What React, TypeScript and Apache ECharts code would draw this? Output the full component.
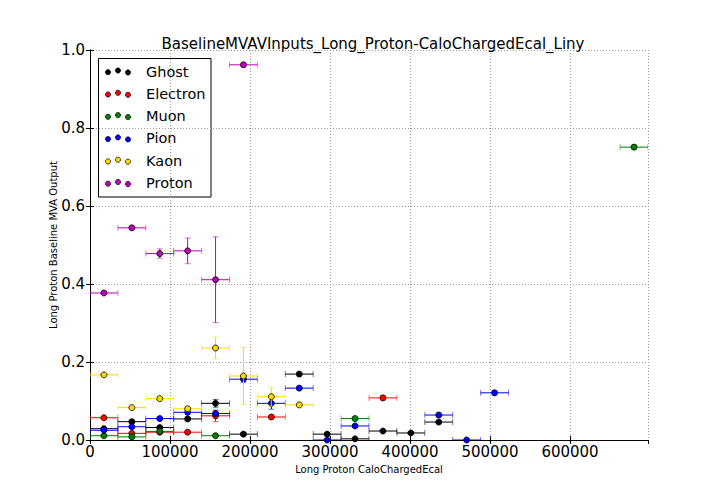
import React, { useEffect, useRef } from 'react';
import * as echarts from 'echarts';

// bin geometry of the x axis (CaloChargedEcal)
const BIN_WIDTH = 34875;
const X_MAX = 697500;
const binCenters = [
  17438, 52313, 87188, 122063, 156938, 191813, 226688, 261563, 296438, 331313,
  366188, 401063, 435938, 470813, 505688, 540563, 575438, 610313, 645188, 680063,
];

const yTicks = [0, 0.2, 0.4, 0.6, 0.8, 1.0];

const speciesNames = ['Ghost', 'Electron', 'Muon', 'Pion', 'Kaon', 'Proton'];
const speciesColors = ['#000000', '#ff0000', '#008000', '#0000ff', '#ffd700', '#bf00bf'];

const ghostBins = [0, 1, 2, 3, 4, 5, 7, 8, 9, 10, 11, 12];
const ghostValues = [0.029, 0.047, 0.032, 0.054, 0.094, 0.015, 0.169, 0.015, 0.003, 0.023, 0.018, 0.046];
const ghostErrors = [0.003, 0.004, 0.004, 0.005, 0.01, 0.004, 0.005, 0.004, 0.002, 0.003, 0.003, 0.004];

const electronBins = [0, 1, 2, 3, 4, 6, 10];
const electronValues = [0.057, 0.017, 0.02, 0.02, 0.062, 0.059, 0.108];
const electronErrors = [0.004, 0.003, 0.003, 0.004, 0.015, 0.005, 0.006];

const muonBins = [0, 1, 2, 4, 9, 19];
const muonValues = [0.011, 0.008, 0.022, 0.011, 0.055, 0.751];
const muonErrors = [0.002, 0.002, 0.003, 0.003, 0.005, 0.006];

const pionBins = [0, 1, 2, 3, 4, 5, 6, 7, 8, 9, 12, 13, 14];
const pionValues = [0.025, 0.034, 0.055, 0.071, 0.068, 0.156, 0.094, 0.133, 0.0, 0.036, 0.064, 0.0, 0.121];
const pionErrors = [0.003, 0.004, 0.004, 0.005, 0.006, 0.008, 0.015, 0.005, 0.002, 0.004, 0.005, 0.002, 0.005];

const kaonBins = [0, 1, 2, 3, 4, 5, 6, 7];
const kaonValues = [0.167, 0.083, 0.106, 0.08, 0.236, 0.164, 0.111, 0.09];
const kaonErrors = [0.004, 0.004, 0.005, 0.006, 0.028, 0.073, 0.024, 0.004];

const protonBins = [0, 1, 2, 3, 4, 5];
const protonValues = [0.377, 0.544, 0.478, 0.485, 0.411, 0.962];
const protonErrors = [0.004, 0.005, 0.012, 0.033, 0.11, 0.005];

const speciesBins = [ghostBins, electronBins, muonBins, pionBins, kaonBins, protonBins];
const speciesValues = [ghostValues, electronValues, muonValues, pionValues, kaonValues, protonValues];
const speciesErrors = [ghostErrors, electronErrors, muonErrors, pionErrors, kaonErrors, protonErrors];

const FONT = 'DejaVu Sans';

const errorBarRenderer = (color: string) => (params: any, api: any) => {
  const x = api.value(0);
  const y = api.value(1);
  const e = api.value(2);
  const left = api.coord([x - BIN_WIDTH / 2, y]);
  const right = api.coord([x + BIN_WIDTH / 2, y]);
  const top = api.coord([x, y + e]);
  const bottom = api.coord([x, y - e]);
  const cap = 3;
  const seg = (x1: number, y1: number, x2: number, y2: number, opacity = 1) => ({
    type: 'line',
    shape: { x1, y1, x2, y2 },
    style: { stroke: color, lineWidth: 1, opacity },
  });
  return {
    type: 'group',
    children: [
      seg(left[0], left[1], right[0], right[1]),
      seg(top[0], top[1], bottom[0], bottom[1]),
      seg(left[0], left[1] - cap, left[0], left[1] + cap, 0.55),
      seg(right[0], right[1] - cap, right[0], right[1] + cap, 0.55),
      seg(top[0] - cap, top[1], top[0] + cap, top[1], 0.55),
      seg(bottom[0] - cap, bottom[1], bottom[0] + cap, bottom[1], 0.55),
    ],
  };
};

const legendGraphic = () => {
  const children: any[] = [
    {
      type: 'rect',
      shape: { x: 98.5, y: 58.5, width: 112.5, height: 138.5 },
      style: { fill: '#fff', stroke: '#000', lineWidth: 1 },
    },
  ];
  const dotOffsets = [0.7, -1, 1];
  speciesNames.forEach((name, i) => {
    const cy = 71.5 + i * 22.3;
    dotOffsets.forEach((dy, j) => {
      children.push({
        type: 'circle',
        shape: { cx: 108 + j * 10, cy: cy + dy, r: 2.6 },
        style: { fill: speciesColors[i], stroke: '#000', lineWidth: 0.7 },
      });
    });
    children.push({
      type: 'text',
      x: 146,
      y: cy,
      style: {
        text: name,
        fill: '#000',
        font: `14.5px "${FONT}"`,
        verticalAlign: 'middle',
        align: 'left',
      },
    });
  });
  return { type: 'group', z: 100, children };
};

const App = () => {
  const chartRef = useRef<HTMLDivElement>(null);

  useEffect(() => {
    const chart = echarts.init(chartRef.current, null, { renderer: 'svg' });

    const tickStyle = { inside: true, length: 4, lineStyle: { color: '#000', width: 1 } };
    const gridLine = { show: true, lineStyle: { color: '#999', width: 1, type: [1, 2] } };

    const scatterSeries = speciesNames.map((name, i) => ({
      name,
      type: 'scatter',
      symbol: 'circle',
      symbolSize: 6,
      z: 3 + i * 2,
      itemStyle: { color: speciesColors[i], borderColor: '#000', borderWidth: 0.8, opacity: 1 },
      data: speciesBins[i].map((b, k) => [binCenters[b], speciesValues[i][k]]),
    }));

    const errorSeries = speciesNames.map((name, i) => ({
      name,
      type: 'custom',
      z: 2 + i * 2,
      clip: true,
      renderItem: errorBarRenderer(speciesColors[i]),
      encode: { x: 0, y: 1 },
      data: speciesBins[i].map((b, k) => [binCenters[b], speciesValues[i][k], speciesErrors[i][k]]),
    }));

    const options = {
      animation: false,
      textStyle: { fontFamily: FONT },
      title: {
        text: 'BaselineMVAVInputs_Long_Proton-CaloChargedEcal_Liny',
        left: 368,
        top: 31,
        textAlign: 'center',
        textStyle: { fontSize: 15, fontWeight: 'normal', color: '#000', fontFamily: FONT },
      },
      grid: { left: 90, right: 72, top: 50, bottom: 64 },
      xAxis: [
        {
          type: 'value',
          min: 0,
          max: X_MAX,
          interval: 100000,
          position: 'bottom',
          axisLine: { lineStyle: { color: '#000', width: 1 } },
          axisTick: tickStyle,
          axisLabel: {
            fontSize: 15,
            color: '#000',
            margin: 4,
            showMaxLabel: false,
            formatter: (v: number) => (v % 100000 === 0 ? String(v) : ''),
          },
          splitLine: gridLine,
          name: 'Long Proton CaloChargedEcal',
          nameLocation: 'middle',
          nameGap: 24,
          nameMoveOverlap: false,
          nameTextStyle: { fontSize: 10, color: '#000' },
        },
        {
          type: 'value',
          min: 0,
          max: X_MAX,
          interval: 100000,
          position: 'top',
          axisLine: { lineStyle: { color: '#000', width: 1, type: [4, 2] } },
          axisTick: tickStyle,
          axisLabel: { show: false },
          splitLine: { show: false },
        },
      ],
      yAxis: [
        {
          type: 'value',
          min: yTicks[0],
          max: yTicks[yTicks.length - 1],
          interval: 0.2,
          axisLine: { show: true, lineStyle: { color: '#000', width: 1 } },
          axisTick: { show: true, ...tickStyle },
          axisLabel: {
            fontSize: 15,
            color: '#000',
            margin: 5,
            formatter: (v: number) => v.toFixed(1),
          },
          splitLine: gridLine,
          name: 'Long Proton Baseline MVA Output',
          nameLocation: 'middle',
          nameGap: 32,
          nameMoveOverlap: false,
          nameTextStyle: { fontSize: 10, color: '#000' },
        },
        {
          type: 'value',
          min: yTicks[0],
          max: yTicks[yTicks.length - 1],
          interval: 0.2,
          position: 'right',
          axisLine: { show: true, lineStyle: { color: '#000', width: 1 } },
          axisTick: { show: true, ...tickStyle },
          axisLabel: { show: false },
          splitLine: { show: false },
        },
      ],
      graphic: [legendGraphic()],
      series: [...errorSeries, ...scatterSeries],
    };

    chart.setOption(options);

    return () => {
      chart.dispose();
    };
  }, []);

  return (
    <div
      ref={chartRef}
      style={{ position: 'fixed', left: 0, top: 0, width: '720px', height: '504px', background: '#fff' }}
    ></div>
  );
};

export default App;
